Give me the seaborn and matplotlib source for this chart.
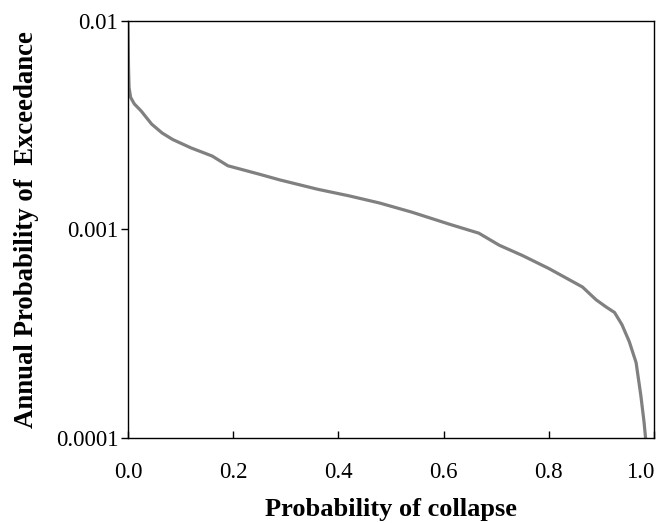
import numpy as np
import pandas as pd
import matplotlib
matplotlib.use("Agg")
import matplotlib.pyplot as plt
import seaborn as sns
from matplotlib.ticker import FixedLocator, FixedFormatter, NullLocator

# curve (probability of collapse vs annual probability of exceedance)
p_collapse = [0.0, 0.001, 0.002, 0.005, 0.012, 0.025, 0.045, 0.065, 0.085,
              0.12, 0.16, 0.19, 0.25, 0.288, 0.36, 0.42, 0.478, 0.54, 0.611,
              0.667, 0.706, 0.75, 0.80, 0.864, 0.89, 0.909, 0.925, 0.939,
              0.953, 0.966, 0.975, 0.981, 0.984]
annual_pe = [0.0099, 0.0060, 0.0048, 0.0043, 0.0040, 0.0037, 0.0032, 0.0029,
             0.0027, 0.00246, 0.00225, 0.00202, 0.00184, 0.00173, 0.00156,
             0.00145, 0.00134, 0.00121, 0.00106, 0.00096, 0.00084, 0.00075,
             0.00065, 0.00053, 0.00046, 0.000425, 0.00040, 0.00035, 0.00029,
             0.00023, 0.00016, 0.00012, 0.0001]

y_ticks = [0.0001, 0.001, 0.01]
y_tick_labels = ["0.0001", "0.001", "0.01"]
x_ticks = [0.0, 0.2, 0.4, 0.6, 0.8, 1.0]
x_tick_labels = ["0.0", "0.2", "0.4", "0.6", "0.8", "1.0"]

df = pd.DataFrame({"p": p_collapse, "ape": annual_pe})

sns.set_style("white")
plt.rcParams["font.family"] = ["Liberation Serif", "DejaVu Serif"]
plt.rcParams["text.color"] = "black"
plt.rcParams["axes.labelcolor"] = "black"

fig = plt.figure(figsize=(6.57, 5.23), dpi=100)
ax = fig.add_axes([0.1948, 0.1625, 0.8006, 0.7975])

sns.lineplot(data=df, x="p", y="ape", sort=False, estimator=None,
             color="#808080", linewidth=2.3, ax=ax)

ax.set_yscale("log")
ax.set_xlim(0, 1)
ax.set_ylim(0.0001, 0.01)
ax.yaxis.set_major_locator(FixedLocator(y_ticks))
ax.yaxis.set_major_formatter(FixedFormatter(y_tick_labels))
ax.yaxis.set_minor_locator(NullLocator())
ax.set_xticks(x_ticks)
ax.set_xticklabels(x_tick_labels)

for s in ax.spines.values():
    s.set_color("black")
    s.set_linewidth(1.0)

ax.tick_params(axis="y", direction="out", length=5, width=1, labelsize=16.5,
               left=True, pad=2, colors="black", labelcolor="black")
ax.tick_params(axis="x", direction="in", length=5, width=1, labelsize=16.5,
               bottom=True, pad=17, colors="black", labelcolor="black")
xl = ax.get_xticklabels()
xl[-1].set_horizontalalignment("right")

ax.set_xlabel("Probability of collapse", fontsize=19, fontweight="bold",
              labelpad=11, color="black")
ax.set_ylabel("Annual Probability of  Exceedance", fontsize=19.3,
              fontweight="bold", labelpad=12, color="black")

fig.savefig("out.png", dpi=100)
